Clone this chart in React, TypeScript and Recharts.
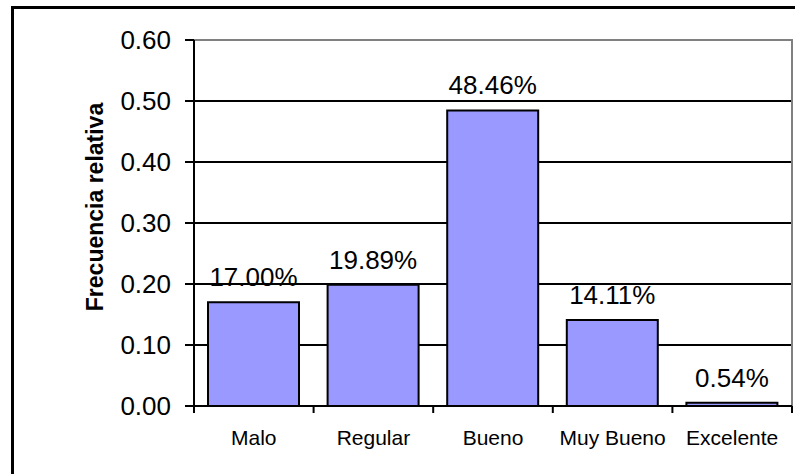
import { BarChart, Bar, XAxis, YAxis, CartesianGrid, LabelList, ReferenceArea } from 'recharts';

const categories = ['Malo', 'Regular', 'Bueno', 'Muy Bueno', 'Excelente'];
const frecuencias = [0.17, 0.1989, 0.4846, 0.1411, 0.0054];
const yTicks = [0, 0.1, 0.2, 0.3, 0.4, 0.5, 0.6];

const data = categories.map((name, i) => ({ name, value: frecuencias[i] }));

const FONT = '"Liberation Sans", Arial, sans-serif';

function YTitle(props: any) {
  const vb = props.viewBox || { x: 0, y: 0, width: 0, height: 0 };
  const x = vb.x + 103;
  const y = vb.y + vb.height / 2 - 16;
  return (
    <text
      x={x}
      y={y}
      transform={`rotate(-90 ${x} ${y})`}
      textAnchor="middle"
      fontFamily={FONT}
      fontSize={23}
      fontWeight="bold"
      fill="#000"
    >
      Frecuencia relativa
    </text>
  );
}

// category label plus tick marks on the band edges (Excel style)
function CatTick(props: any) {
  const { x, y, payload, index } = props;
  const half = payload?.offset ?? 0;
  const axisY = y;
  const last = index === categories.length - 1;
  return (
    <g>
      <line x1={x - half} x2={x - half} y1={axisY} y2={axisY + 7} stroke="#000" strokeWidth={2} />
      {last && <line x1={x + half} x2={x + half} y1={axisY} y2={axisY + 7} stroke="#000" strokeWidth={2} />}
      <text x={x} y={axisY + 39} textAnchor="middle" fontFamily={FONT} fontSize={21} fill="#000">
        {payload.value}
      </text>
    </g>
  );
}

export default function App() {
  return (
    <div
      style={{
        position: 'absolute',
        left: 0,
        top: 0,
        width: 795,
        height: 474,
        overflow: 'hidden',
        background: '#fff',
      }}
    >
      <div
        style={{
          position: 'absolute',
          left: 11,
          top: 6,
          width: 900,
          height: 600,
          border: '3px solid #000',
        }}
      />
      <div style={{ position: 'absolute', left: 0, top: 0 }}>
        <BarChart
          width={795}
          height={474}
          data={data}
          margin={{ top: 40, right: 3, bottom: 28, left: 0 }}
          barSize={91}
          style={{ fontFamily: FONT }}
        >
          <CartesianGrid vertical={false} stroke="#000" strokeWidth={2} strokeOpacity={1} />
          <ReferenceArea y1={0} y2={0.6} fill="none" stroke="#808080" strokeWidth={2} ifOverflow="visible" />
          <XAxis
            dataKey="name"
            height={40}
            axisLine={{ stroke: '#000', strokeWidth: 2 }}
            tickLine={false}
            tickSize={0}
            tickMargin={0}
            interval={0}
            tick={<CatTick />}
          />
          <YAxis
            width={194}
            domain={[0, 0.6]}
            ticks={yTicks}
            interval={0}
            tickFormatter={(v: number) => v.toFixed(2)}
            tickSize={9}
            tickMargin={14}
            axisLine={{ stroke: '#000', strokeWidth: 2 }}
            tickLine={{ stroke: '#000', strokeWidth: 2 }}
            tick={{ fill: '#000', fontSize: 26, fontFamily: FONT }}
            label={<YTitle />}
          />
          <Bar
            dataKey="value"
            fill="#9999FF"
            stroke="#000"
            strokeWidth={2}
            isAnimationActive={false}
          >
            <LabelList
              dataKey="value"
              position="top"
              offset={16}
              formatter={(v: any) => `${(Number(v) * 100).toFixed(2)}%`}
              style={{ fill: '#000', fontSize: 26, fontFamily: FONT }}
            />
          </Bar>
        </BarChart>
      </div>
    </div>
  );
}
